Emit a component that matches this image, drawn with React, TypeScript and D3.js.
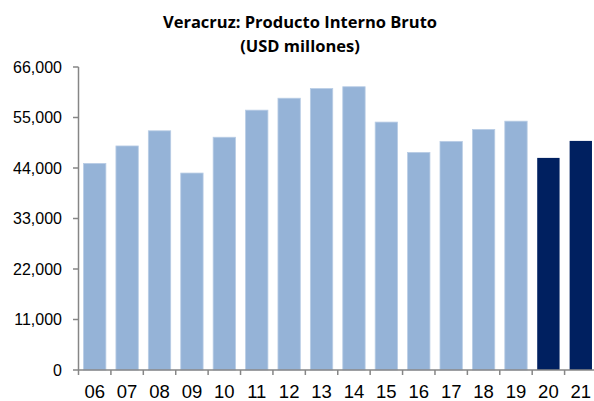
import React from "react";
import * as d3 from "d3";

const categories = ["06","07","08","09","10","11","12","13","14","15","16","17","18","19","20","21"];
const values = [45000,48800,52100,42900,50700,56600,59200,61300,61700,54000,47400,49800,52400,54200,46200,49900];
const highlighted = ["20","21"];
const yTicks = [0,11000,22000,33000,44000,55000,66000];
const titleLines = ["Veracruz: Producto Interno Bruto","(USD millones)"];

const W = 594, H = 401;

export default function App() {
  const x = d3.scaleBand<string>().domain(categories).range([78.5, 597]).paddingInner(0.31).paddingOuter(0.155);
  const y = d3.scaleLinear().domain([0, 66000]).range([370, 67]);
  const fmt = d3.format(",");
  const axisColor = "#868686";
  return (
    <svg width={W} height={H} style={{ position: "absolute", left: 0, top: 0 }}>
      <rect width={W} height={H} fill="#fff" />
      {titleLines.map((t, i) => (
        <text key={i} x={300} y={28 + i * 24} textAnchor="middle" fontFamily="'Open Sans', sans-serif" fontWeight="bold" fontSize={16.5} fill="#000">{t}</text>
      ))}
      {categories.map((c, i) => (
        <rect key={c} x={x(c)} y={y(values[i])} width={x.bandwidth()} height={y(0) - y(values[i])}
          fill={highlighted.includes(c) ? "#002060" : "#95B3D7"}
          stroke={highlighted.includes(c) ? "none" : "#B9CDE5"} strokeWidth={0.8} />
      ))}
      <line x1={78.5} x2={78.5} y1={y(66000)} y2={y(0)} stroke={axisColor} strokeWidth={1.5} />
      {yTicks.map(t => (
        <g key={t}>
          <line x1={73} x2={78.5} y1={y(t)} y2={y(t)} stroke={axisColor} strokeWidth={1.5} />
          <text x={62} y={y(t) + 5.5} textAnchor="end" fontFamily="'Liberation Sans', Arial, sans-serif" fontSize={16} fill="#000">{fmt(t)}</text>
        </g>
      ))}
      <line x1={78.5} x2={W} y1={y(0)} y2={y(0)} stroke={axisColor} strokeWidth={1.5} />
      {categories.map((c, i) => {
        const bx = 78.5 + i * x.step();
        return <line key={c} x1={bx} x2={bx} y1={y(0)} y2={y(0) + 5} stroke={axisColor} strokeWidth={1.5} />;
      })}
      {categories.map(c => (
        <text key={c} x={(x(c) ?? 0) + x.bandwidth() / 2} y={397.5} textAnchor="middle" fontFamily="'Liberation Sans', Arial, sans-serif" fontSize={18.5} fill="#000">{c}</text>
      ))}
    </svg>
  );
}
